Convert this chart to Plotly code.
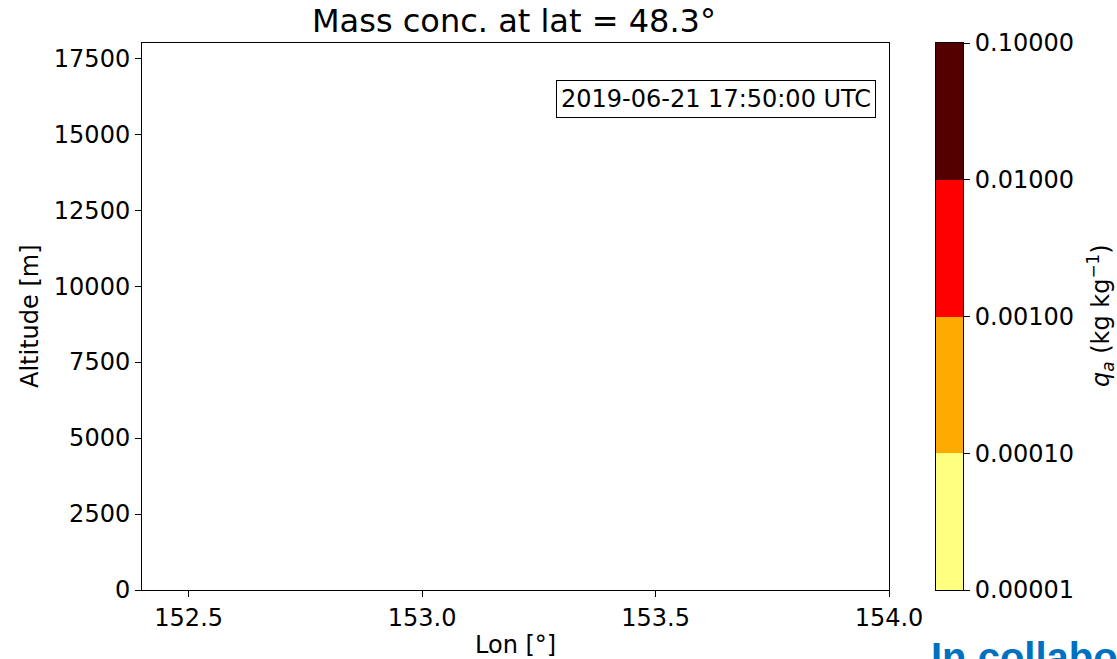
import plotly.graph_objects as go

# Cross-section axes (empty at this time step)
lon_values = []
alt_values = []
lon_range = [152.4, 154.0]
alt_range = [0, 18000]
lon_ticks = [152.5, 153.0, 153.5, 154.0]
alt_ticks = [0, 2500, 5000, 7500, 10000, 12500, 15000, 17500]

# Discrete colour levels for mass concentration (kg/kg)
level_exponents = [-5, -4, -3, -2, -1]
level_labels = ["0.00001", "0.00010", "0.00100", "0.01000", "0.10000"]
level_colors = ["#ffff80", "#ffaa00", "#ff0000", "#550000"]

title_text = "Mass conc. at lat = 48.3°"
time_text = "2019-06-21 17:50:00 UTC"

W, H = 1117, 659
FONT = "DejaVu Sans"


def px_x(x):
    return x / W


def px_y(y):
    return 1 - y / H


fig = go.Figure()

fig.add_trace(go.Scatter(x=lon_values, y=alt_values, mode="markers",
                         showlegend=False, xaxis="x", yaxis="y"))

# Colour bar drawn as a one-column heatmap, one cell per level band
n = len(level_colors)
centers = [(level_exponents[i] + level_exponents[i + 1]) / 2 for i in range(n)]
colorscale = [[i / (n - 1), c] for i, c in enumerate(level_colors)]
fig.add_trace(go.Heatmap(
    x=[0], y=centers, z=[[i] for i in range(n)],
    zmin=0, zmax=n - 1, colorscale=colorscale, showscale=False,
    hoverinfo="skip", xaxis="x2", yaxis="y2",
))

axis_common = dict(showline=True, linecolor="black", linewidth=1, mirror=True,
                   ticks="outside", ticklen=6, tickwidth=1, tickcolor="black",
                   showgrid=False, zeroline=False, automargin=False,
                   tickfont=dict(family=FONT, size=24, color="black"))

fig.update_layout(
    width=W, height=H,
    margin=dict(l=0, r=0, t=0, b=0),
    paper_bgcolor="white", plot_bgcolor="white",
    showlegend=False,
    xaxis=dict(domain=[px_x(142), px_x(889)], range=lon_range,
               tickvals=lon_ticks, tickformat=".1f", anchor="y", **axis_common),
    yaxis=dict(domain=[px_y(590), px_y(43)], range=alt_range,
               tickvals=alt_ticks, tickformat="d", anchor="x", **axis_common),
    xaxis2=dict(domain=[px_x(936), px_x(963)], range=[-0.5, 0.5],
                showticklabels=False, ticks="", showline=True, linecolor="black",
                linewidth=1, mirror=True, showgrid=False, zeroline=False,
                anchor="y2", automargin=False),
    yaxis2=dict(domain=[px_y(590), px_y(43)], range=[level_exponents[0], level_exponents[-1]],
                tickvals=level_exponents, ticktext=level_labels, side="right",
                anchor="x2", **axis_common),
)

annotations = [
    dict(text=title_text, x=px_x(514), y=px_y(21), xref="paper", yref="paper",
         xanchor="center", yanchor="middle", showarrow=False,
         font=dict(family=FONT, size=32, color="black")),
    dict(text="Lon [°]", x=px_x(515), y=px_y(645), xref="paper", yref="paper",
         xanchor="center", yanchor="middle", showarrow=False,
         font=dict(family=FONT, size=24, color="black")),
    dict(text="Altitude [m]", x=px_x(30), y=px_y(316), xref="paper", yref="paper",
         xanchor="center", yanchor="middle", showarrow=False, textangle=-90,
         font=dict(family=FONT, size=24, color="black")),
    dict(text="<i>q</i><sub><i>a</i></sub> (kg kg<sup>−1</sup>)",
         x=px_x(1100), y=px_y(316), xref="paper", yref="paper",
         xanchor="center", yanchor="middle", showarrow=False, textangle=-90,
         font=dict(family=FONT, size=24, color="black")),
    dict(text=time_text, x=px_x(876), y=px_y(80), xref="paper", yref="paper",
         xanchor="right", yanchor="top", showarrow=False,
         bordercolor="black", borderwidth=1, borderpad=4, bgcolor="white",
         font=dict(family=FONT, size=24, color="black")),
    dict(text="<b>In collaboration</b>", x=px_x(929), y=px_y(633), xref="paper", yref="paper",
         xanchor="left", yanchor="top", showarrow=False,
         font=dict(family="Liberation Sans", size=40, color="#0070c0")),
]
fig.update_layout(annotations=annotations)

fig.write_html("out.html")
